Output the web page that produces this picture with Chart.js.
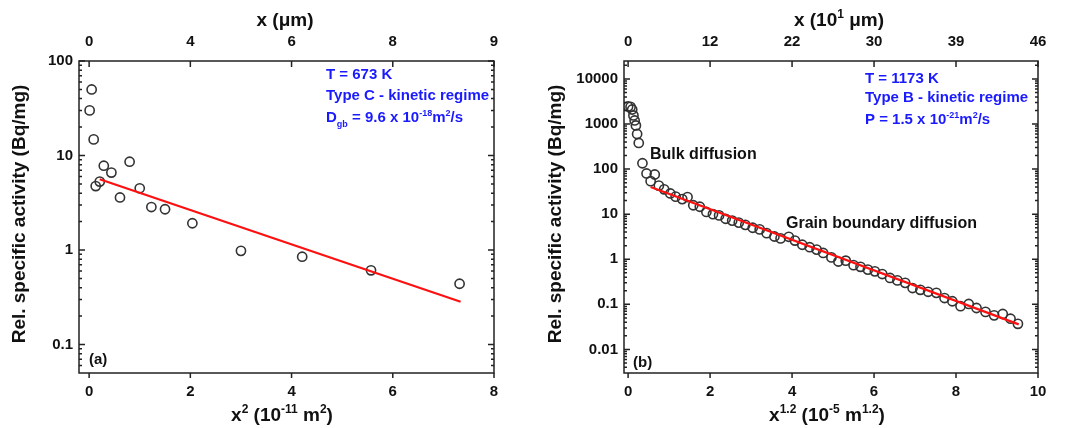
<!DOCTYPE html>
<html>
<head>
<meta charset="utf-8">
<script src="https://cdn.jsdelivr.net/npm/chart.js@4.4.0/dist/chart.umd.min.js"></script>
<style>
  html, body { margin: 0; padding: 0; background: #fff; }
  #wrap { position: relative; width: 1083px; height: 428px; }
  #wrap canvas { position: absolute; top: 0; }
</style>
</head>
<body>
<div id="wrap">
  <canvas id="chartA" width="541" height="428" style="left:0px"></canvas>
  <canvas id="chartB" width="542" height="428" style="left:541px"></canvas>
</div>
<script>
// panel (a) - T = 673 K, x^2 in 1e-11 m^2
const xA = [0.01, 0.05, 0.09, 0.13, 0.21, 0.29, 0.44, 0.61, 0.80, 1.00, 1.23, 1.50, 2.04, 3.00, 4.21, 5.57, 7.32];
const actA = [30, 50, 14.8, 4.75, 5.3, 7.8, 6.6, 3.6, 8.6, 4.5, 2.85, 2.7, 1.92, 0.98, 0.85, 0.61, 0.44];
const fitXA = [0.21, 7.34];
const fitYA = [5.6, 0.284];
const xTicksA = [0, 2, 4, 6, 8];
const topLabelsA = ['0', '4', '6', '8', '9'];
const yTicksA = [0.1, 1, 10, 100];
const yLabelsA = ['0.1', '1', '10', '100'];

// panel (b) - T = 1173 K, x^1.2 in 1e-5 m^1.2
const xB = [0.00, 0.06, 0.10, 0.13, 0.16, 0.19, 0.22, 0.26, 0.35, 0.45, 0.55, 0.65,
            0.75, 0.88, 1.03, 1.16, 1.32, 1.45, 1.59, 1.75, 1.91, 2.07,
            2.22, 2.38, 2.54, 2.70, 2.86, 3.04, 3.21, 3.38, 3.57, 3.72,
            3.92, 4.07, 4.25, 4.43, 4.60, 4.76, 4.96, 5.13, 5.31, 5.50,
            5.67, 5.85, 6.02, 6.20, 6.39, 6.57, 6.76, 6.94, 7.13, 7.32,
            7.52, 7.72, 7.91, 8.11, 8.31, 8.50, 8.72, 8.93, 9.14, 9.33, 9.51];
const actB = [2450, 2400, 2100, 1550, 1200, 930, 600, 380, 135, 80, 54, 76,
              43, 35.6, 28.8, 24.5, 21.6, 24.0, 15.8, 14.6, 11.2, 10.0,
              9.4, 7.9, 7.2, 6.5, 5.8, 5.0, 4.6, 3.8, 3.2, 2.9,
              3.15, 2.6, 2.1, 1.85, 1.64, 1.38, 1.1, 0.89, 0.93, 0.74,
              0.68, 0.59, 0.54, 0.47, 0.385, 0.34, 0.30, 0.23, 0.21, 0.19,
              0.18, 0.138, 0.117, 0.091, 0.102, 0.083, 0.068, 0.057, 0.061, 0.048, 0.037];
const fitXB = [0.55, 9.53];
const fitYB = [40, 0.036];
const xTicksB = [0, 2, 4, 6, 8, 10];
const topLabelsB = ['0', '12', '22', '30', '39', '46'];
const yTicksB = [0.01, 0.1, 1, 10, 100, 1000, 10000];
const yLabelsB = ['0.01', '0.1', '1', '10', '100', '1000', '10000'];

const FONT = '"Liberation Sans", Arial, Helvetica, sans-serif';
const BLUE = '#1a1aff';

// text with sup (1) / sub (-1) pieces
function drawRich(ctx, segs, x, y, size, align) {
  const small = Math.round(size * 0.62);
  let w = 0;
  segs.forEach(([t, m]) => {
    ctx.font = `bold ${m ? small : size}px ${FONT}`;
    w += ctx.measureText(t).width;
  });
  let cx = align === 'center' ? x - w / 2 : x;
  segs.forEach(([t, m]) => {
    ctx.font = `bold ${m ? small : size}px ${FONT}`;
    const dy = m === 1 ? -size * 0.4 : (m === -1 ? size * 0.3 : 0);
    ctx.fillText(t, cx, y + dy);
    cx += ctx.measureText(t).width;
  });
}

const panelText = {
  id: 'panelText',
  afterDraw(chart, args, opts) {
    const ctx = chart.ctx;
    ctx.save();
    ctx.textAlign = 'left';
    (opts.items || []).forEach(it => {
      ctx.fillStyle = it.color || '#111';
      if (it.rotate) {
        ctx.save();
        ctx.translate(it.x, it.y);
        ctx.rotate(-Math.PI / 2);
        ctx.textBaseline = 'middle';
        drawRich(ctx, it.segs, 0, 0, it.size, 'center');
        ctx.restore();
      } else {
        ctx.textBaseline = 'alphabetic';
        drawRich(ctx, it.segs, it.x, it.y, it.size, it.align);
      }
    });
    ctx.restore();
  }
};

// frame, inward ticks, log minor ticks
const axisMarks = {
  id: 'axisMarks',
  afterDatasetsDraw(chart) {
    const {ctx, chartArea: a, scales} = chart;
    const x = scales.x, x2 = scales.x2, y = scales.y;
    ctx.save();
    ctx.strokeStyle = '#222';
    ctx.lineWidth = 1.5;
    ctx.strokeRect(a.left, a.top, a.right - a.left, a.bottom - a.top);
    ctx.beginPath();
    x.ticks.forEach(t => {
      const px = x.getPixelForValue(t.value);
      ctx.moveTo(px, a.bottom); ctx.lineTo(px, a.bottom + 5);
    });
    x2.ticks.forEach(t => {
      const px = x2.getPixelForValue(t.value);
      ctx.moveTo(px, a.top); ctx.lineTo(px, a.top + 6);
    });
    y.ticks.forEach(t => {
      const py = y.getPixelForValue(t.value);
      ctx.moveTo(a.left, py); ctx.lineTo(a.left + 6, py);
      ctx.moveTo(a.right, py); ctx.lineTo(a.right - 6, py);
    });
    const d0 = Math.floor(Math.log10(y.min)), d1 = Math.ceil(Math.log10(y.max));
    for (let d = d0; d <= d1; d++) {
      for (let k = 2; k <= 9; k++) {
        const v = k * Math.pow(10, d);
        if (v <= y.min || v >= y.max) continue;
        const py = y.getPixelForValue(v);
        ctx.moveTo(a.left, py); ctx.lineTo(a.left + 3, py);
        ctx.moveTo(a.right, py); ctx.lineTo(a.right - 3, py);
      }
    }
    ctx.stroke();
    ctx.restore();
  }
};

function makePanel(id, p) {
  const pts = p.x.map((v, i) => ({x: v, y: p.y[i]}));
  const fit = p.fitX.map((v, i) => ({x: v, y: p.fitY[i]}));
  const tickFont = {family: FONT, size: 15, weight: 'bold'};
  return new Chart(document.getElementById(id), {
    type: 'scatter',
    data: {
      datasets: [
        {data: fit, showLine: true, borderColor: '#ff1010', borderWidth: 2.2, pointRadius: 0, order: 0},
        {data: pts, pointRadius: 4.6, borderColor: '#333', borderWidth: 1.6,
         backgroundColor: 'rgba(0,0,0,0)', order: 1}
      ]
    },
    options: {
      responsive: false,
      animation: false,
      layout: {padding: {left: 0, right: p.padRight, top: 0, bottom: 0}},
      plugins: {
        legend: {display: false},
        tooltip: {enabled: false},
        panelText: {items: p.text}
      },
      scales: {
        x: {
          type: 'linear', position: 'bottom', min: p.xMin, max: p.xMax,
          grid: {display: false, drawTicks: false}, border: {display: false},
          afterBuildTicks: s => { s.ticks = p.xTicks.map(v => ({value: v})); },
          afterFit: s => { s.height = 55; },
          ticks: {font: tickFont, color: '#111', padding: 10, maxRotation: 0, autoSkip: false,
                  callback: v => String(v)}
        },
        x2: {
          type: 'linear', axis: 'x', position: 'top', min: p.xMin, max: p.xMax,
          grid: {display: false, drawTicks: false}, border: {display: false},
          afterBuildTicks: s => { s.ticks = p.xTicks.map(v => ({value: v})); },
          afterFit: s => { s.height = 61; },
          ticks: {font: tickFont, color: '#111', padding: 10, maxRotation: 0, autoSkip: false,
                  callback: v => p.topLabels[p.xTicks.indexOf(v)]}
        },
        y: {
          type: 'logarithmic', position: 'left', min: p.yMin, max: p.yMax,
          grid: {display: false, drawTicks: false}, border: {display: false},
          afterBuildTicks: s => { s.ticks = p.yTicks.map(v => ({value: v})); },
          afterFit: s => { s.width = p.yWidth; },
          ticks: {font: tickFont, color: '#111', padding: 6, autoSkip: false,
                  callback: v => p.yLabels[p.yTicks.indexOf(v)]}
        }
      }
    },
    plugins: [axisMarks, panelText]
  });
}

makePanel('chartA', {
  x: xA, y: actA, fitX: fitXA, fitY: fitYA,
  xMin: -0.2, xMax: 8, yMin: 0.05, yMax: 100,
  xTicks: xTicksA, topLabels: topLabelsA, yTicks: yTicksA, yLabels: yLabelsA,
  yWidth: 79, padRight: 47,
  text: [
    {segs: [['Rel. specific activity (Bq/mg)', 0]], x: 20, y: 214, size: 19, rotate: true},
    {segs: [['x (\u03bcm)', 0]], x: 285, y: 26, size: 19, align: 'center'},
    {segs: [['x', 0], ['2', 1], [' (10', 0], ['-11', 1], [' m', 0], ['2', 1], [')', 0]], x: 282, y: 421, size: 19, align: 'center'},
    {segs: [['T = 673 K', 0]], x: 326, y: 79, size: 15, color: BLUE},
    {segs: [['Type C - kinetic regime', 0]], x: 326, y: 100, size: 15, color: BLUE},
    {segs: [['D', 0], ['gb', -1], [' = 9.6 x 10', 0], ['-18', 1], ['m', 0], ['2', 1], ['/s', 0]], x: 326, y: 122, size: 15, color: BLUE},
    {segs: [['(a)', 0]], x: 89, y: 364, size: 15}
  ]
});

makePanel('chartB', {
  x: xB, y: actB, fitX: fitXB, fitY: fitYB,
  xMin: -0.1, xMax: 10, yMin: 0.003, yMax: 25000,
  xTicks: xTicksB, topLabels: topLabelsB, yTicks: yTicksB, yLabels: yLabelsB,
  yWidth: 83, padRight: 45,
  text: [
    {segs: [['Rel. specific activity (Bq/mg)', 0]], x: 15, y: 214, size: 19, rotate: true},
    {segs: [['x (10', 0], ['1', 1], [' \u03bcm)', 0]], x: 298, y: 26, size: 19, align: 'center'},
    {segs: [['x', 0], ['1.2', 1], [' (10', 0], ['-5', 1], [' m', 0], ['1.2', 1], [')', 0]], x: 286, y: 421, size: 19, align: 'center'},
    {segs: [['T = 1173 K', 0]], x: 324, y: 83, size: 15, color: BLUE},
    {segs: [['Type B - kinetic regime', 0]], x: 324, y: 102, size: 15, color: BLUE},
    {segs: [['P = 1.5 x 10', 0], ['-21', 1], ['m', 0], ['2', 1], ['/s', 0]], x: 324, y: 124, size: 15, color: BLUE},
    {segs: [['Bulk diffusion', 0]], x: 109, y: 159, size: 16},
    {segs: [['Grain boundary diffusion', 0]], x: 245, y: 228, size: 16},
    {segs: [['(b)', 0]], x: 92, y: 367, size: 15}
  ]
});
</script>
</body>
</html>
